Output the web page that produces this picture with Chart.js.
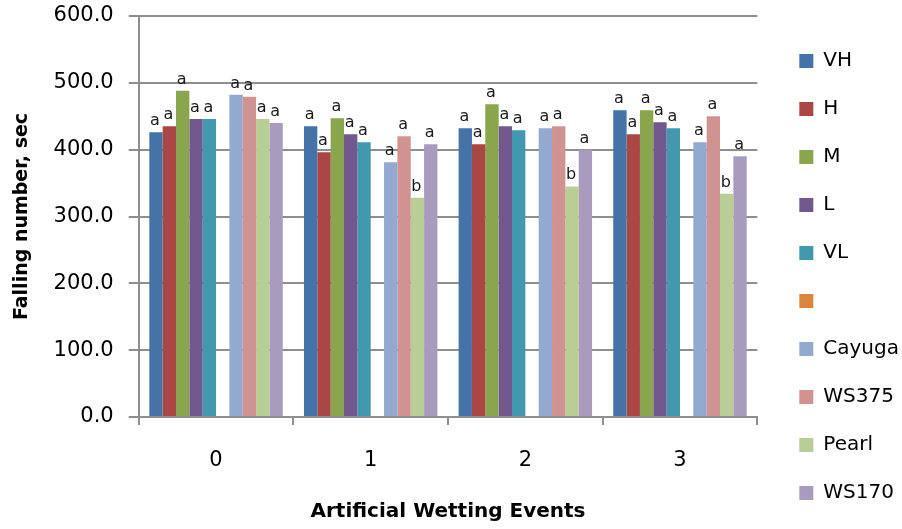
<!DOCTYPE html>
<html>
<head>
<meta charset="utf-8">
<script src="https://cdn.jsdelivr.net/npm/chart.js@4.4.1/dist/chart.umd.min.js"></script>
<style>
  html, body { margin: 0; padding: 0; background: #ffffff; }
  #wrap { width: 902px; height: 529px; }
</style>
</head>
<body>
<div id="wrap"><canvas id="c" width="902" height="529"></canvas></div>
<script>
// ---- data ----
const categories = ['0', '1', '2', '3'];
const seriesNames = ['VH', 'H', 'M', 'L', 'VL', '', 'Cayuga', 'WS375', 'Pearl', 'WS170'];
const VH     = [426, 435, 432, 459];
const H      = [435, 396, 408, 423];
const M      = [488, 447, 468, 459];
const L      = [446, 423, 435, 441];
const VL     = [446, 411, 429, 432];
const blank  = [null, null, null, null];
const Cayuga = [482, 381, 432, 411];
const WS375  = [479, 420, 435, 450];
const Pearl  = [446, 328, 345, 334];
const WS170  = [440, 408, 400, 390];
// significance letters above bars
const lettersVH     = ['a', 'a', 'a', 'a'];
const lettersH      = ['a', 'a', 'a', 'a'];
const lettersM      = ['a', 'a', 'a', 'a'];
const lettersL      = ['a', 'a', 'a', 'a'];
const lettersVL     = ['a', 'a', 'a', 'a'];
const lettersBlank  = [null, null, null, null];
const lettersCayuga = ['a', 'a', 'a', 'a'];
const lettersWS375  = ['a', 'a', 'a', 'a'];
const lettersPearl  = ['a', 'b', 'b', 'b'];
const lettersWS170  = ['a', 'a', 'a', 'a'];
const yTickValues = [0, 100, 200, 300, 400, 500, 600];

const seriesValues = [VH, H, M, L, VL, blank, Cayuga, WS375, Pearl, WS170];
const seriesLetters = [lettersVH, lettersH, lettersM, lettersL, lettersVL, lettersBlank,
                       lettersCayuga, lettersWS375, lettersPearl, lettersWS170];
const colors = ['#4572A7', '#AA4643', '#89A54E', '#71588F', '#4198AF', '#DB843D',
                '#93A9CF', '#D19392', '#B9CD96', '#A99BBD'];

const FONT = "'DejaVu Sans', sans-serif";
const GRID = '#8e8e8e';

const letterPlugin = {
  id: 'letters',
  afterDatasetsDraw(chart) {
    const ctx = chart.ctx;
    ctx.save();
    ctx.font = '16px ' + FONT;
    ctx.fillStyle = '#1a1a1a';
    ctx.textAlign = 'center';
    ctx.textBaseline = 'alphabetic';
    chart.data.datasets.forEach((ds, i) => {
      const meta = chart.getDatasetMeta(i);
      meta.data.forEach((bar, j) => {
        const t = ds.letters[j];
        if (t == null || ds.data[j] == null) return;
        ctx.fillText(t, bar.x - 1, bar.y - 7);
      });
    });
    ctx.restore();
  }
};

const legendNudge = {
  id: 'legendNudge',
  afterLayout(chart) {
    const lg = chart.legend;
    if (!lg) return;
    lg.left += 14; lg.right += 14;
    lg.top += 10; lg.bottom += 10;
  }
};

new Chart(document.getElementById('c'), {
  type: 'bar',
  data: {
    labels: categories,
    datasets: seriesNames.map((name, i) => ({
      label: name,
      data: seriesValues[i],
      letters: seriesLetters[i],
      backgroundColor: colors[i],
      borderWidth: 0,
      categoryPercentage: 0.863,
      barPercentage: 1.0
    }))
  },
  options: {
    responsive: false,
    animation: false,
    layout: { padding: { left: 0, top: 5, right: 7, bottom: 0 } },
    plugins: {
      tooltip: { enabled: false },
      legend: {
        position: 'right',
        align: 'center',
        labels: {
          boxWidth: 14,
          boxHeight: 14,
          padding: 28,
          color: '#000',
          font: { family: FONT, size: 20 }
        }
      }
    },
    scales: {
      x: {
        grid: {
          display: true,
          drawOnChartArea: false,
          drawTicks: true,
          tickLength: 8,
          color: GRID,
          lineWidth: 2,
          offset: true
        },
        border: { display: true, color: GRID, width: 2 },
        ticks: { color: '#000', font: { family: FONT, size: 21 }, padding: 23 },
        title: {
          display: true,
          text: 'Artificial Wetting Events',
          color: '#000',
          font: { family: FONT, size: 20, weight: 'bold' },
          padding: { top: 3.8, bottom: 5 }
        }
      },
      y: {
        min: 0,
        max: 600,
        afterBuildTicks(scale) { scale.ticks = yTickValues.map(v => ({ value: v })); },
        afterFit(scale) { scale.paddingTop = 16; },
        grid: {
          color: GRID,
          lineWidth: 2,
          drawTicks: true,
          tickLength: 10
        },
        border: { display: true, color: GRID, width: 2 },
        ticks: {
          color: '#000',
          font: { family: FONT, size: 21 },
          padding: 15,
          callback: v => Number(v).toFixed(1)
        },
        title: {
          display: true,
          text: 'Falling number, sec',
          color: '#000',
          font: { family: FONT, size: 19, weight: 'bold' },
          padding: { top: 10.5, bottom: 5.3 }
        }
      }
    }
  },
  plugins: [letterPlugin, legendNudge]
});
</script>
</body>
</html>
